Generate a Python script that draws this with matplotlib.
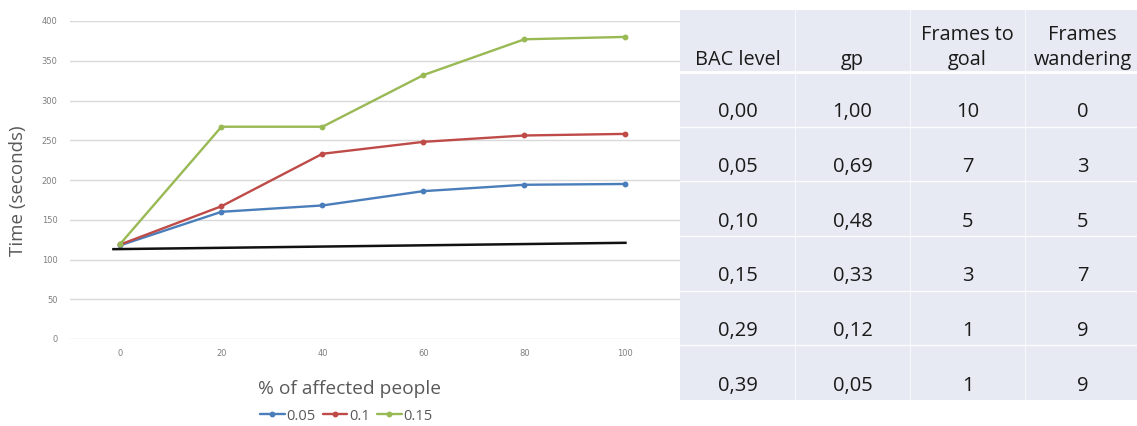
import matplotlib
matplotlib.use("Agg")
import matplotlib.pyplot as plt
from matplotlib.patches import Rectangle

# ---- chart data ----
categories = ["0", "20", "40", "60", "80", "100"]
series_names = ["0.05", "0.1", "0.15"]
time_005 = [118, 160, 168, 186, 194, 195]
time_010 = [119, 167, 233, 248, 256, 258]
time_015 = [120, 267, 267, 332, 377, 380]
baseline_ends = [113, 121]
series_colors = ["#4a7ebb", "#be4b48", "#98b954"]

# ---- table data ----
table_header = ["BAC level", "gp", "Frames to\ngoal", "Frames\nwandering"]
bac_level = ["0,00", "0,05", "0,10", "0,15", "0,29", "0,39"]
gp_values = ["1,00", "0,69", "0,48", "0,33", "0,12", "0,05"]
frames_to_goal = ["10", "7", "5", "3", "1", "1"]
frames_wandering = ["0", "3", "5", "7", "9", "9"]

W, H = 1137, 426
fig = plt.figure(figsize=(W / 100, H / 100), dpi=100)
fig.patch.set_facecolor("white")

# ---- line chart ----
ax = fig.add_axes([70 / W, 1 - 339 / H, 612 / W, (339 - 21) / H])
xs = list(range(len(categories)))
for vals, name, col in zip([time_005, time_010, time_015], series_names, series_colors):
    ax.plot(xs, vals, color=col, lw=1.7, marker="o", ms=3.2, label=name,
            solid_capstyle="round")
ax.plot([xs[0] - 0.07, xs[-1]], baseline_ends, color="#111111", lw=1.8)

ax.set_xlim(-0.5, 5.56)
ax.set_ylim(0, 400)
ax.set_yticks(range(0, 401, 50))
ax.set_xticks(xs)
ax.set_xticklabels(categories)
ax.grid(axis="y", color="#d9d9d9", lw=1)
ax.set_axisbelow(True)
for s in ax.spines.values():
    s.set_visible(False)
ax.tick_params(axis="both", length=0, labelsize=6, labelcolor="#7f7f7f", pad=9)
ax.tick_params(axis="x", pad=7)
ax.set_ylabel("Time (seconds)", fontsize=13.5, color="#595959", family="Open Sans",
              va="center")
ax.yaxis.set_label_coords(-(70 - 18) / 612, (339 - 191) / (339 - 21))
ax.set_xlabel("% of affected people", fontsize=13.8, color="#595959",
              family="Open Sans")
ax.xaxis.set_label_coords((350 - 70) / 612, -(389 - 339) / (339 - 21))
ax.xaxis.label.set_va("center")

leg = fig.legend(loc="center", bbox_to_anchor=(346 / W, 1 - 416 / H), ncol=3,
                 frameon=False, handlelength=1.7, handletextpad=0.1,
                 columnspacing=0.5, borderpad=0,
                 prop={"family": "Open Sans", "size": 10.5})
for t in leg.get_texts():
    t.set_color("#595959")

# ---- table ----
tx0, tx1 = 680, 1140
ty_top, ty_bot = 10, 400
tax = fig.add_axes([tx0 / W, 1 - ty_bot / H, (tx1 - tx0) / W, (ty_bot - ty_top) / H])
tbl_w = tx1 - tx0
tbl_h = ty_bot - ty_top
tax.set_xlim(0, tbl_w)
tax.set_ylim(tbl_h, 0)
tax.axis("off")
tax.add_patch(Rectangle((0, 0), tbl_w, tbl_h, facecolor="#e7eaf2", edgecolor="none"))

col_w = [115, 115, 115, 115]
col_edges = [sum(col_w[:i]) for i in range(len(col_w) + 1)]
header_h = 62
row_h = (tbl_h - header_h) / len(bac_level)

for e in col_edges[1:-1]:
    tax.plot([e, e], [0, tbl_h], color="white", lw=0.8, alpha=0.7)
tax.plot([0, tbl_w], [header_h, header_h], color="white", lw=2)
for i in range(1, len(bac_level)):
    y = header_h + i * row_h
    tax.plot([0, tbl_w], [y, y], color="white", lw=1, alpha=0.9)

txt_kw = dict(ha="center", color="#1a1a1a", family="Open Sans")
for j, head in enumerate(table_header):
    cx = (col_edges[j] + col_edges[j + 1]) / 2
    tax.text(cx, header_h - 2, head, va="bottom", fontsize=14.3,
             linespacing=1.3, clip_on=False, **txt_kw)

columns = [bac_level, gp_values, frames_to_goal, frames_wandering]
for j, col in enumerate(columns):
    cx = (col_edges[j] + col_edges[j + 1]) / 2
    for i, val in enumerate(col):
        cy = header_h + (i + 0.5) * row_h + 13
        tax.text(cx, cy, val, va="center", fontsize=14.5, **txt_kw)

fig.savefig("out.png", dpi=100)
